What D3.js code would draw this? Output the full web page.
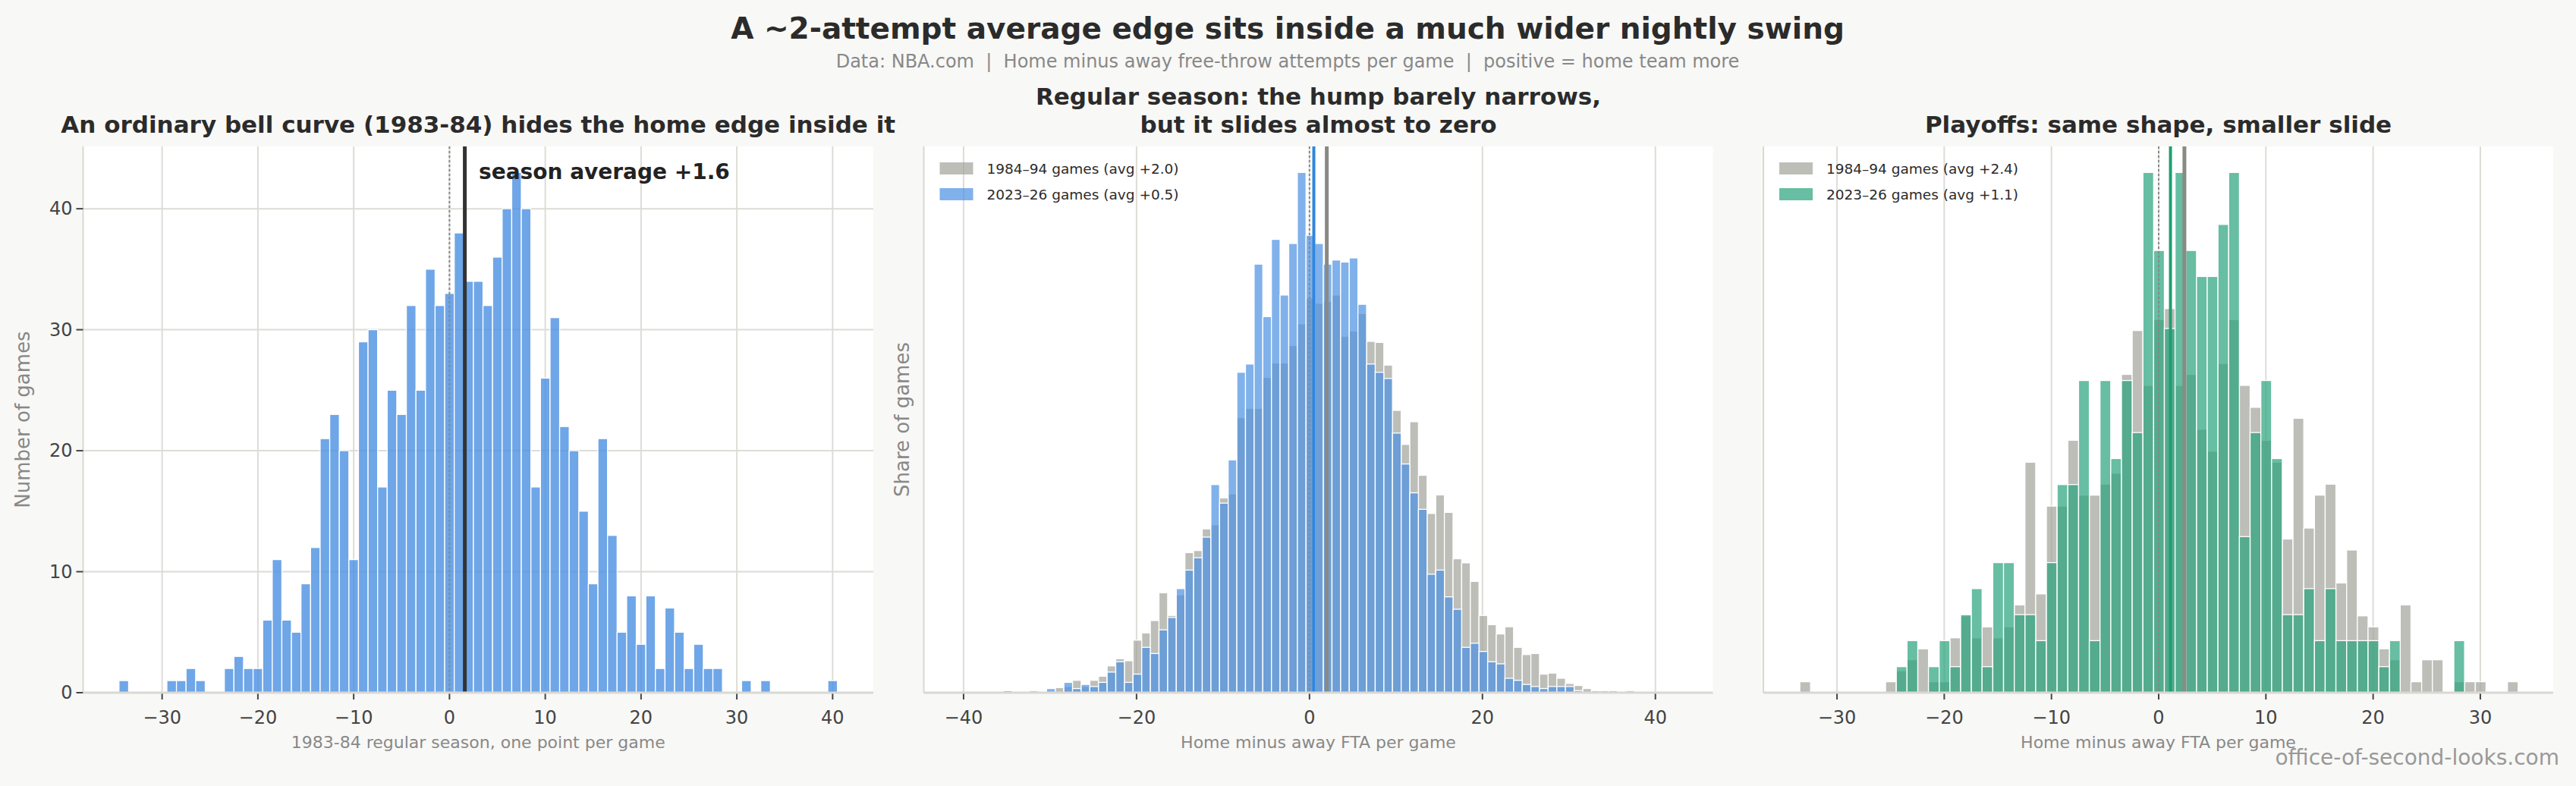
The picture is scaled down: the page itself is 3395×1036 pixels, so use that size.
<!DOCTYPE html>
<html>
<head>
<meta charset="utf-8">
<script src="https://cdn.jsdelivr.net/npm/d3@7"></script>
<style>
  html, body { margin: 0; padding: 0; background: #f8f8f6; }
  svg text { font-family: "DejaVu Sans", sans-serif; }
</style>
</head>
<body>
<div id="chart"></div>
<script>
// ---- data ----
// panel 1: 1983-84 regular season, games per integer bin (-34 .. 40)
const p1Bins = d3.range(-34, 41);
const p1Counts = [
  1, 0, 0, 0, 0, 1, 1, 2, 1, 0,
  0, 2, 3, 2, 2, 6, 11, 6, 5, 9,
  12, 21, 23, 20, 11, 29, 30, 17, 25, 23,
  32, 25, 35, 32, 33, 38, 34, 34, 32, 36,
  40, 43, 40, 17, 26, 31, 22, 20, 15, 9,
  21, 13, 5, 8, 4, 8, 2, 7, 5, 2,
  4, 2, 2, 0, 0, 1, 0, 1, 0, 0,
  0, 0, 0, 0, 1
];
const p1Mean = 1.6;

// panel 2: regular season share of games (%), bins -35 .. 39
const p2Bins = d3.range(-35, 40);
const p2Old = [   // 1984-94
  0, 0.01, 0, 0.02, 0, 0.01, 0.05, 0.06, 0.12, 0.06,
  0.12, 0.16, 0.26, 0.33, 0.31, 0.51, 0.58, 0.70, 0.97, 0.75,
  0.95, 1.36, 1.38, 1.59, 1.63, 1.89, 1.93, 2.67, 2.76, 2.76,
  3.06, 3.20, 3.20, 3.37, 3.58, 3.83, 3.78, 3.80, 3.86, 3.46,
  3.51, 3.68, 3.41, 3.40, 3.18, 2.74, 2.41, 2.63, 2.11, 1.74,
  1.92, 1.75, 1.30, 1.26, 1.08, 0.75, 0.66, 0.57, 0.64, 0.44,
  0.37, 0.38, 0.18, 0.19, 0.14, 0.09, 0.07, 0.04, 0.02, 0.02,
  0.02, 0, 0.02, 0.01, 0.01
];
const p2New = [   // 2023-26
  0.02, 0, 0, 0, 0, 0.04, 0, 0.10, 0.04, 0.08,
  0.06, 0.10, 0.20, 0.30, 0.10, 0.18, 0.44, 0.38, 0.61, 0.73,
  1.01, 1.19, 1.31, 1.51, 2.02, 1.84, 2.26, 3.11, 3.19, 4.16,
  3.65, 4.40, 3.86, 4.36, 5.05, 4.44, 4.36, 4.16, 4.20, 4.18,
  4.22, 3.77, 3.19, 3.11, 3.05, 2.52, 2.22, 1.94, 1.78, 1.15,
  1.19, 0.93, 0.81, 0.44, 0.48, 0.40, 0.30, 0.28, 0.14, 0.12,
  0.08, 0.06, 0.04, 0.06, 0.06, 0.06, 0.02, 0, 0, 0,
  0, 0, 0, 0, 0
];
const p2Means = { old: 2.0, recent: 0.5 };

// panel 3: playoff games per bin, bins -33 .. 33
const p3Bins = d3.range(-33, 34);
const p3Old = [
  1, 0, 0, 0, 0, 0, 0, 0, 1, 2,
  3, 4, 1, 1, 5, 7, 5, 6, 5, 6,
  8, 21, 9, 17, 17, 23, 18, 18, 19, 20,
  29, 33, 28, 34, 35, 28, 29, 24, 22, 30,
  34, 28, 26, 23, 21, 14, 25, 15, 18, 19,
  10, 13, 7, 6, 4, 3, 8, 1, 3, 3,
  0, 1, 1, 1, 0, 0, 1
];
const p3New = [
  0, 0, 0, 0, 0, 0, 0, 0, 0, 1,
  2, 0, 1, 2, 1, 3, 4, 1, 5, 5,
  3, 3, 2, 5, 8, 8, 12, 2, 12, 9,
  12, 10, 20, 17, 14, 20, 17, 16, 16, 18,
  20, 6, 10, 12, 9, 3, 3, 4, 2, 4,
  2, 2, 2, 2, 1, 2, 0, 0, 0, 0,
  0, 2, 0, 0, 0, 0, 0
];
const p3Means = { old: 2.4, recent: 1.1 };

const p1Ticks = [-30, -20, -10, 0, 10, 20, 30, 40];
const p1YTicks = [0, 10, 20, 30, 40];
const p2Ticks = [-40, -20, 0, 20, 40];
const p3Ticks = [-30, -20, -10, 0, 10, 20, 30];

// ---- layout ----
const W = 3395, H = 1036;
const TOP = 193, BOTTOM = 913;
const GREY = '#a3a39b', BLUE = '#4a90e2', GREEN = '#26a37a';

const svg = d3.select('#chart').append('svg')
  .attr('width', W).attr('height', H)
  .style('display', 'block');

svg.append('rect').attr('width', W).attr('height', H).attr('fill', '#f8f8f6');

// headline + source line
svg.append('text')
  .attr('x', 1697).attr('y', 51)
  .attr('text-anchor', 'middle')
  .attr('font-size', '39px').attr('font-weight', 'bold').attr('fill', '#2b2b2b')
  .text('A ~2-attempt average edge sits inside a much wider nightly swing');
svg.append('text')
  .attr('x', 1697).attr('y', 89)
  .attr('text-anchor', 'middle')
  .attr('font-size', '24px').attr('fill', '#888')
  .attr('xml:space', 'preserve').style('white-space', 'pre')
  .text('Data: NBA.com  |  Home minus away free-throw attempts per game  |  positive = home team more');

// common axes frame: background, grid, ticks, spines
function frame(opt) {
  const x = d3.scaleLinear().domain(opt.xDomain).range([opt.left, opt.right]);
  const y = d3.scaleLinear().domain(opt.yDomain).range([BOTTOM, TOP]);
  const g = svg.append('g');

  g.append('rect')
    .attr('x', opt.left).attr('y', TOP)
    .attr('width', opt.right - opt.left).attr('height', BOTTOM - TOP)
    .attr('fill', '#fff');

  // vertical grid
  g.selectAll('.vgrid').data(opt.xTicks).enter().append('line')
    .attr('x1', d => x(d)).attr('x2', d => x(d))
    .attr('y1', TOP).attr('y2', BOTTOM)
    .attr('stroke', '#dddcd7').attr('stroke-width', 2);

  if (opt.yTicks) {
    g.selectAll('.hgrid').data(opt.yTicks).enter().append('line')
      .attr('x1', opt.left).attr('x2', opt.right)
      .attr('y1', d => y(d)).attr('y2', d => y(d))
      .attr('stroke', '#dddcd7').attr('stroke-width', 2);
  }

  // left spine
  g.append('line')
    .attr('x1', opt.left).attr('x2', opt.left).attr('y1', TOP).attr('y2', BOTTOM)
    .attr('stroke', '#d9d8d3').attr('stroke-width', 2);

  // x ticks
  const fmt = d3.format('d');
  g.selectAll('.xt').data(opt.xTicks).enter().append('line')
    .attr('x1', d => x(d)).attr('x2', d => x(d))
    .attr('y1', BOTTOM).attr('y2', BOTTOM + 9)
    .attr('stroke', '#444').attr('stroke-width', 2);
  g.selectAll('.xl').data(opt.xTicks).enter().append('text')
    .attr('x', d => x(d)).attr('y', BOTTOM + 41)
    .attr('text-anchor', 'middle')
    .attr('font-size', '24px').attr('fill', '#444')
    .text(d => fmt(d));

  if (opt.yTicks) {
    g.selectAll('.yt').data(opt.yTicks).enter().append('line')
      .attr('x1', opt.left - 9).attr('x2', opt.left)
      .attr('y1', d => y(d)).attr('y2', d => y(d))
      .attr('stroke', '#444').attr('stroke-width', 2);
    g.selectAll('.yl').data(opt.yTicks).enter().append('text')
      .attr('x', opt.left - 14).attr('y', d => y(d))
      .attr('text-anchor', 'end').attr('dominant-baseline', 'central')
      .attr('font-size', '24px').attr('fill', '#444')
      .text(d => fmt(d));
  }

  // titles and labels
  const cx = (opt.left + opt.right) / 2;
  const title = g.append('text')
    .attr('text-anchor', 'middle')
    .attr('font-size', '31px').attr('font-weight', 'bold').attr('fill', '#2b2b2b');
  opt.title.forEach((line, i, arr) => {
    title.append('tspan')
      .attr('x', cx).attr('y', 175 - (arr.length - 1 - i) * 37)
      .text(line);
  });

  g.append('text')
    .attr('x', cx).attr('y', 986)
    .attr('text-anchor', 'middle')
    .attr('font-size', '22px').attr('fill', '#888')
    .text(opt.xLabel);

  if (opt.yLabel) {
    const ly = (TOP + BOTTOM) / 2;
    g.append('text')
      .attr('transform', `translate(${opt.yLabelX},${ly}) rotate(-90)`)
      .attr('text-anchor', 'middle').attr('dominant-baseline', 'central')
      .attr('font-size', '26px').attr('fill', '#888')
      .text(opt.yLabel);
  }

  return { g, x, y };
}

function bars(p, bins, values, offset, color, opacity) {
  p.g.append('g').selectAll('rect')
    .data(bins.map((b, i) => ({ b, v: values[i] })).filter(d => d.v > 0))
    .enter().append('rect')
      .attr('x', d => p.x(d.b + offset))
      .attr('width', d => p.x(d.b + offset + 1) - p.x(d.b + offset))
      .attr('y', d => p.y(d.v))
      .attr('height', d => p.y(0) - p.y(d.v))
      .attr('fill', color).attr('fill-opacity', opacity)
      .attr('stroke', '#fff').attr('stroke-width', 1.3);
}

function vline(p, v, color, width, dash) {
  p.g.append('line')
    .attr('x1', p.x(v)).attr('x2', p.x(v))
    .attr('y1', TOP).attr('y2', BOTTOM)
    .attr('stroke', color).attr('stroke-width', width)
    .attr('stroke-dasharray', dash || null);
}

function bottomSpine(p, left, right) {
  p.g.append('line')
    .attr('x1', left).attr('x2', right).attr('y1', BOTTOM).attr('y2', BOTTOM)
    .attr('stroke', '#d9d8d3').attr('stroke-width', 3);
}

function legend(p, left, items) {
  items.forEach((it, i) => {
    const cy = 222 + i * 34;
    p.g.append('rect')
      .attr('x', left + 21).attr('y', cy - 8)
      .attr('width', 44).attr('height', 16)
      .attr('fill', it.color).attr('fill-opacity', 0.7);
    p.g.append('text')
      .attr('x', left + 83).attr('y', cy)
      .attr('dominant-baseline', 'central')
      .attr('font-size', '18.5px').attr('fill', '#2b2b2b')
      .text(it.label);
  });
}

// 1) single season histogram
const p1 = frame({
  left: 109.5, right: 1151,
  xDomain: [-38.25, 44.25],
  yDomain: [0, d3.max(p1Counts) * 1.05],
  xTicks: p1Ticks, yTicks: p1YTicks,
  title: ['An ordinary bell curve (1983-84) hides the home edge inside it'],
  xLabel: '1983-84 regular season, one point per game',
  yLabel: 'Number of games', yLabelX: 30
});
bars(p1, p1Bins, p1Counts, -0.5, BLUE, 0.8);
vline(p1, 0, '#888', 2, '3,3');
vline(p1, p1Mean, '#333', 5);
bottomSpine(p1, 109.5, 1151);
p1.g.append('text')
  .attr('x', 631).attr('y', 236)
  .attr('font-size', '28px').attr('font-weight', 'bold').attr('fill', '#222')
  .text('season average +' + p1Mean.toFixed(1));

// 2) regular season, old vs recent (shares)
const p2 = frame({
  left: 1217.5, right: 2257.5,
  xDomain: [-44.6, 46.65],
  yDomain: [0, d3.max(p2Old.concat(p2New)) * 1.05],
  xTicks: p2Ticks,
  title: ['Regular season: the hump barely narrows,', 'but it slides almost to zero'],
  xLabel: 'Home minus away FTA per game',
  yLabel: 'Share of games', yLabelX: 1189
});
bars(p2, p2Bins, p2Old, -0.4, GREY, 0.7);
bars(p2, p2Bins, p2New, -0.4, BLUE, 0.7);
vline(p2, 0, '#888', 2, '3,3');
vline(p2, p2Means.recent, '#2f86de', 4);
vline(p2, p2Means.old, '#8a8a84', 5);
bottomSpine(p2, 1217.5, 2257.5);
legend(p2, 1217.5, [
  { color: GREY, label: '1984–94 games (avg +' + p2Means.old.toFixed(1) + ')' },
  { color: BLUE, label: '2023–26 games (avg +' + p2Means.recent.toFixed(1) + ')' }
]);

// 3) playoffs, counts turned into shares
const p3OldTotal = d3.sum(p3Old), p3NewTotal = d3.sum(p3New);
const p3OldShare = p3Old.map(c => c / p3OldTotal);
const p3NewShare = p3New.map(c => c / p3NewTotal);
const p3 = frame({
  left: 2324, right: 3365,
  xDomain: [-36.87, 36.8],
  yDomain: [0, d3.max(p3OldShare.concat(p3NewShare)) * 1.05],
  xTicks: p3Ticks,
  title: ['Playoffs: same shape, smaller slide'],
  xLabel: 'Home minus away FTA per game'
});
bars(p3, p3Bins, p3OldShare, -0.47, GREY, 0.7);
bars(p3, p3Bins, p3NewShare, -0.47, GREEN, 0.7);
vline(p3, 0, '#888', 2, '3,3');
vline(p3, p3Means.recent, '#1f9e72', 4);
vline(p3, p3Means.old, '#8a8a84', 5);
bottomSpine(p3, 2324, 3365);
legend(p3, 2324, [
  { color: GREY, label: '1984–94 games (avg +' + p3Means.old.toFixed(1) + ')' },
  { color: GREEN, label: '2023–26 games (avg +' + p3Means.recent.toFixed(1) + ')' }
]);

// watermark
svg.append('text')
  .attr('x', 3373).attr('y', 1008)
  .attr('text-anchor', 'end')
  .attr('font-size', '28px').attr('fill', '#999')
  .text('office-of-second-looks.com');
</script>
</body>
</html>
